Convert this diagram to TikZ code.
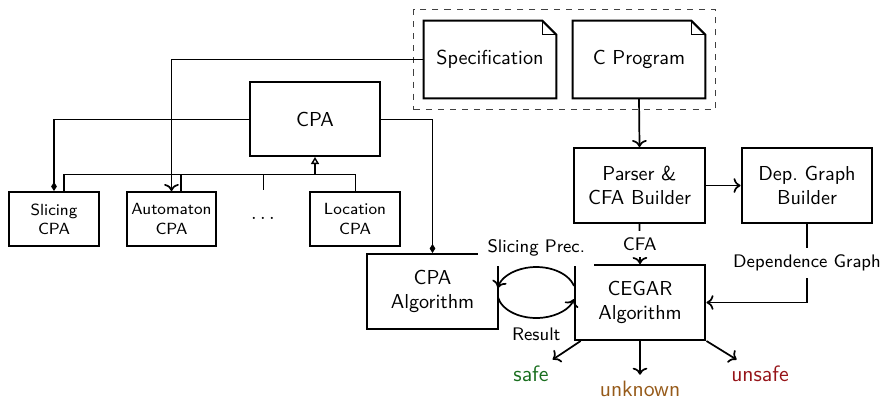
\documentclass[tikz,border=0pt]{standalone}
\usetikzlibrary{arrows.meta,calc,fit}

\definecolor{safegreen}{RGB}{25,110,30}
\definecolor{unknownbrown}{RGB}{150,90,25}
\definecolor{unsafered}{RGB}{150,20,25}

\tikzset{
  box/.style={draw, line width=1pt, minimum width=64.8pt, minimum height=37.1pt,
    align=center, font=\sffamily, inner sep=2pt},
  cpabox/.style={box, minimum width=64.35pt, minimum height=36.6pt},
  smallbox/.style={draw, line width=1pt, minimum width=44.5pt, minimum height=26.7pt,
    align=center, font=\sffamily\footnotesize, inner sep=1pt},
  docbox/.style={minimum width=65.3pt, minimum height=38.1pt, align=center,
    font=\sffamily, inner sep=2pt},
  flow/.style={line width=0.85pt, ->},
  assoc/.style={line width=0.5pt, -{Diamond[length=4.5pt,width=2.8pt]}},
  inherit/.style={line width=0.5pt},
  lbl/.style={fill=white, font=\sffamily\small, inner sep=4.5pt},
  verdict/.style={font=\sffamily\fontsize{11}{13}\selectfont, inner sep=3pt},
}

\begin{document}
\begin{tikzpicture}[x=0.495pt, y=-0.495pt]
  \useasboundingbox (0,0) rectangle (885,400);

  % input documents
  \node[docbox] (spec)  at (490,59.5) {Specification};
  \node[docbox] (cprog) at (639,59.5) {C Program};
  \foreach \d in {spec,cprog}{
    \draw[line width=1pt] (\d.north west) -- ([xshift=-7pt]\d.north east)
      -- ([yshift=-7pt]\d.north east) -- (\d.south east) -- (\d.south west) -- cycle;
    \draw[line width=0.7pt] ([xshift=-7pt]\d.north east) |- ([yshift=-7pt]\d.north east);
  }
  \node[draw, dashed, line width=0.5pt, black!75, fit=(spec)(cprog),
        inner xsep=4.9pt, inner ysep=5.6pt] (inputs) {};

  % CPA hierarchy
  \node[cpabox] (cpa) at (315,119) {CPA};
  \node[smallbox] (slicing)   at (54,219)    {Slicing\\CPA};
  \node[smallbox] (automaton) at (171.5,219) {Automaton\\CPA};
  \node[font=\sffamily, minimum height=27.7pt, inner sep=0pt] (dots) at (263,218) {$\ldots$};
  \node[smallbox] (location)  at (355,219)   {Location\\CPA};

  \coordinate (hub) at ($(cpa.south)+(0,18)$);
  \draw[inherit] ([xshift=4.95pt]slicing.north) |- (hub);
  \draw[inherit] ([xshift=4.7pt]automaton.north) |- (hub);
  \draw[inherit] (dots.north) |- (hub);
  \draw[inherit] (location.north) |- (hub);
  \draw[line width=0.7pt, -{Triangle[open,length=3.5pt,width=4pt]}] (hub) -- (cpa.south);

  % analysis components
  \node[box] (parser) at (639.5,185.5) {Parser \&\\CFA Builder};
  \node[box] (dep)    at (807,185.5)   {Dep.\ Graph\\Builder};
  \node[box] (cegar)  at (640,302.5)   {CEGAR\\Algorithm};
  \node[box] (cpaalg) at (432.5,291.5) {CPA\\Algorithm};

  % composition
  \draw[assoc] (cpa.west) -| (slicing.north);
  \draw[assoc] (cpa.east) -| (cpaalg.north);

  % data flow
  \draw[flow] (spec.west) -| (automaton.north);
  \draw[flow] (cprog.south) -- (parser.north);
  \draw[flow] (parser) -- (dep);
  \draw[flow] (parser.south) -- node[lbl, inner sep=3pt] {CFA} (cegar.north);
  \draw[flow] (dep.south) |- node[lbl, pos=0.25, inner sep=3.5pt] {Dependence Graph} (cegar.east);

  % refinement loop between the two algorithms
  \coordinate (loopc) at ($($(cpaalg.east)!0.5!(cegar.west)$)+(0,-4.5)$);
  \draw[flow] ($(loopc)+(-15:39 and 25.5)$)
    arc[start angle=-15, end angle=-170, x radius=39, y radius=25.5];
  \draw[flow] ($(loopc)+(170:39 and 25.5)$)
    arc[start angle=170, end angle=15, x radius=39, y radius=25.5];
  \node[lbl, anchor=south] (prec) at ($(loopc)+(0,-26.5)$) {Slicing Prec.};
  \node[font=\sffamily\small, anchor=north] (result) at ($(loopc)+(0,28)$) {Result};

  % verdicts
  \node[verdict, text=safegreen]    (safe)    at (531,374) {safe};
  \node[verdict, text=unknownbrown] (unknown) at (640,389) {unknown};
  \node[verdict, text=unsafered]    (unsafe)  at (760,374) {unsafe};
  \draw[flow] ([xshift=3.5pt]cegar.south west) -- (safe);
  \draw[flow] (cegar.south) -- (unknown);
  \draw[flow] (cegar.south east) -- (unsafe);
\end{tikzpicture}
\end{document}
